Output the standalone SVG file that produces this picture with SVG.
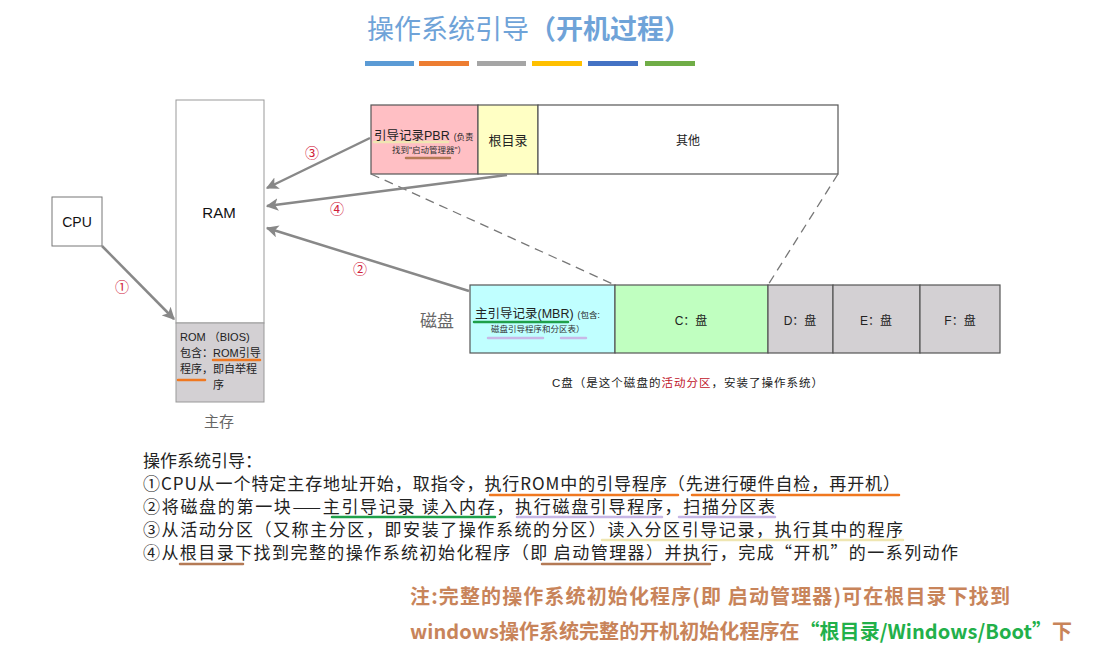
<svg xmlns="http://www.w3.org/2000/svg" width="1112" height="664" viewBox="0 0 1112 664">
<defs>
<marker id="ah" viewBox="0 0 10 10" refX="9" refY="5" markerWidth="5" markerHeight="5" orient="auto" markerUnits="strokeWidth"><path d="M0,0 L10,5 L0,10 L2.5,5 z" fill="#888"/></marker>
<style>
text{font-family:"Liberation Sans","Noto Sans CJK SC",sans-serif;}
.box{stroke:#555;stroke-width:1.2;}
.lbl{font-size:12px;fill:#222;text-anchor:middle;}
.sm{font-size:8.5px;fill:#333;}
.num{font-size:14px;fill:#d0203a;text-anchor:middle;}
.arr{fill:none;stroke:#888;stroke-width:2.5;marker-end:url(#ah);}
.dash{stroke:#777;stroke-width:1.3;stroke-dasharray:9,6;fill:none;}
.body{font-family:"Noto Sans CJK SC",sans-serif;font-size:17px;fill:#222;}
.ul{stroke-width:2.5;stroke-linecap:round;fill:none;}
.note{font-family:"Noto Sans CJK SC",sans-serif;font-size:20px;font-weight:bold;fill:#c8845a;}
</style>
</defs>
<rect width="1112" height="664" fill="#fff"/>
<g id="title">
<text x="367" y="39" font-size="27" fill="#6fa3d8" font-family="Noto Sans CJK SC,sans-serif">操作系统引导<tspan font-weight="bold">（开机过程）</tspan></text>
<rect x="365" y="61" width="49" height="5" fill="#5b9bd5"/>
<rect x="419" y="61" width="50" height="5" fill="#ed7d31"/>
<rect x="477" y="61" width="49" height="5" fill="#a5a5a5"/>
<rect x="532" y="61" width="50" height="5" fill="#ffc000"/>
<rect x="588" y="61" width="50" height="5" fill="#4472c4"/>
<rect x="645" y="61" width="50" height="5" fill="#70ad47"/>
</g>
<g id="cpu">
<rect x="52" y="197" width="50" height="49" fill="#fff" stroke="#777" stroke-width="1"/>
<text x="77" y="227" font-size="14" text-anchor="middle" fill="#111">CPU</text>
</g>
<g id="mainmem">
<rect x="176" y="100" width="88" height="223" fill="#fff" stroke="#999" stroke-width="1"/>
<text x="219" y="218" font-size="15" text-anchor="middle" fill="#111">RAM</text>
<rect x="176" y="323" width="88" height="79" fill="#d3d0d3" stroke="#999" stroke-width="1"/>
<text x="180" y="341" font-size="11" fill="#222">ROM （BIOS)</text>
<text x="180" y="357" font-size="11" fill="#222">包含：ROM引导</text>
<text x="180" y="373" font-size="11" fill="#222">程序，<tspan x="213">即自举程</tspan></text>
<text x="213" y="389" font-size="11" fill="#222">序</text>
<line class="ul" x1="213" y1="360" x2="260" y2="360" stroke="#f07820" stroke-width="3.5"/>
<line class="ul" x1="178" y1="380" x2="205" y2="380" stroke="#f07820" stroke-width="3.5"/>
<text x="219" y="427" font-size="15" text-anchor="middle" fill="#666">主存</text>
</g>
<g id="pbr-row">
<rect class="box" x="371" y="105" width="107" height="69" fill="#ffbfc4"/>
<rect class="box" x="478" y="105" width="60" height="69" fill="#ffffc4"/>
<rect class="box" x="538" y="105" width="300" height="69" fill="#fff"/>
<line class="ul" x1="374" y1="142" x2="448" y2="142" stroke="#efe6b2" stroke-width="2"/>
<text x="374" y="140" font-size="12.5" fill="#222">引导记录PBR<tspan font-size="8.5" dx="4">(负责</tspan></text>
<text x="392" y="153" class="sm">找到"启动管理器"）</text>
<line class="ul" x1="406" y1="158" x2="450" y2="158" stroke="#b47a55" stroke-width="4"/>
<text x="508" y="145" font-size="13" text-anchor="middle" fill="#222">根目录</text>
<text x="688" y="145" class="lbl">其他</text>
</g>
<g id="disk">
<text x="420" y="327" font-size="17" fill="#666">磁盘</text>
<rect class="box" x="470" y="285" width="145" height="68" fill="#c0ffff"/>
<rect class="box" x="615" y="285" width="153" height="68" fill="#c0ffc0"/>
<rect class="box" x="768" y="285" width="65" height="68" fill="#d3d0d3"/>
<rect class="box" x="833" y="285" width="87" height="68" fill="#d3d0d3"/>
<rect class="box" x="920" y="285" width="80" height="68" fill="#d3d0d3"/>
<text x="475" y="318" font-size="12.5" fill="#222">主引导记录(MBR)<tspan font-size="8.5" dx="4">(包含:</tspan></text>
<line class="ul" x1="474" y1="322" x2="568" y2="322" stroke="#1fa04a" stroke-width="3"/>
<text x="491" y="332" class="sm">磁盘引导程序和分区表）</text>
<line class="ul" x1="488" y1="338" x2="543" y2="338" stroke="#c8b8e6" stroke-width="4"/>
<line class="ul" x1="561" y1="338" x2="586" y2="338" stroke="#c8b8e6" stroke-width="4"/>
<text x="691" y="325" class="lbl">C：盘</text>
<text x="800" y="325" class="lbl">D：盘</text>
<text x="876" y="325" class="lbl">E：盘</text>
<text x="960" y="325" class="lbl">F：盘</text>
<text x="552" y="387" font-size="11.5" fill="#222" textLength="271" lengthAdjust="spacing">C盘（是这个磁盘的<tspan fill="#c0142a">活动分区</tspan>，安装了操作系统）</text>
</g>
<g id="connectors">
<line class="dash" x1="371" y1="174" x2="615" y2="285"/>
<line class="dash" x1="838" y1="174" x2="768" y2="285"/>
<line class="arr" x1="102" y1="246" x2="174" y2="319"/>
<line class="arr" x1="469" y1="291" x2="267" y2="228"/>
<line class="arr" x1="370" y1="138" x2="267" y2="188"/>
<path class="arr" d="M507,175 Q390,190 267,206"/>
<text x="122" y="292" class="num">①</text>
<text x="360" y="274" class="num">②</text>
<text x="312" y="158" class="num">③</text>
<text x="337" y="214" class="num">④</text>
</g>
<g id="steps">
<text x="143" y="467" class="body">操作系统引导：</text>
<text x="143" y="490" class="body" textLength="757" lengthAdjust="spacing">①CPU从一个特定主存地址开始，取指令，执行ROM中的引导程序（先进行硬件自检，再开机）</text>
<text x="143" y="513" class="body" textLength="632" lengthAdjust="spacing">②将磁盘的第一块——主引导记录 读入内存，执行磁盘引导程序，扫描分区表</text>
<text x="143" y="536" class="body" textLength="760" lengthAdjust="spacing">③从活动分区（又称主分区，即安装了操作系统的分区）读入分区引导记录，执行其中的程序</text>
<text x="143" y="559" class="body" textLength="815" lengthAdjust="spacing">④从根目录下找到完整的操作系统初始化程序（即 启动管理器）并执行，完成“开机”的一系列动作</text>
<line class="ul" x1="490" y1="495" x2="678" y2="495" stroke="#f07820"/>
<line class="ul" x1="692" y1="495" x2="899" y2="495" stroke="#f07820"/>
<line class="ul" x1="332" y1="517" x2="495" y2="517" stroke="#1fa04a"/>
<line class="ul" x1="517" y1="517" x2="662" y2="517" stroke="#c8b8e6"/>
<line class="ul" x1="679" y1="517" x2="775" y2="517" stroke="#c8b8e6"/>
<line class="ul" x1="602" y1="540" x2="903" y2="540" stroke="#efe6b2"/>
<line class="ul" x1="180" y1="564" x2="243" y2="564" stroke="#b47a55"/>
<line class="ul" x1="542" y1="564" x2="710" y2="564" stroke="#b47a55"/>
</g>
<g id="note">
<text x="410" y="604" class="note" textLength="600" lengthAdjust="spacing">注:完整的操作系统初始化程序(即 启动管理器)可在根目录下找到</text>
<text x="410" y="639" class="note" textLength="662" lengthAdjust="spacing">windows操作系统完整的开机初始化程序在<tspan fill="#22b04a">“根目录/Windows/Boot”</tspan>下</text>
</g>
</svg>
